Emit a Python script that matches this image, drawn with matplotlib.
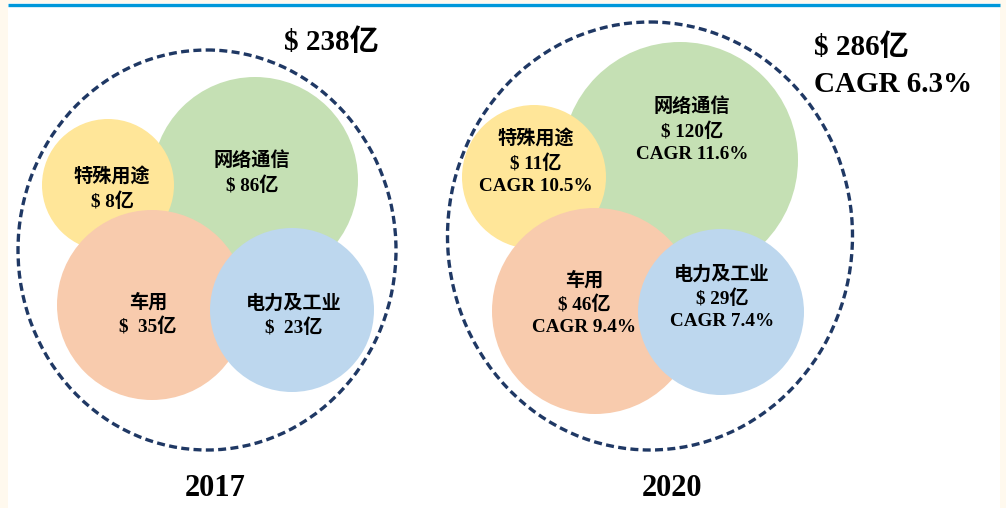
import matplotlib
matplotlib.use("Agg")
import matplotlib.pyplot as plt
from matplotlib.patches import Circle, Ellipse, Rectangle

plt.rcParams['font.family'] = ['Liberation Serif', 'Noto Sans CJK SC']
plt.rcParams['font.weight'] = 'bold'

# data
segments = ['网络通信', '特殊用途', '车用', '电力及工业']
values_2017 = [86, 8, 35, 23]
values_2020 = [120, 11, 46, 29]
cagr_2020 = [11.6, 10.5, 9.4, 7.4]
totals = [238, 286]
total_cagr = 6.3
years = ['2017', '2020']

colors = ['#C5E0B4', '#FFE699', '#F8CBAD', '#BDD7EE']

# layout (pixel coords, y down)
circles_2017 = [(255, 180, 103), (108, 185, 66), (152, 305, 95), (292, 310, 82)]
labels_2017 = [(252, 173), (112, 189), (148, 315), (294, 316)]
circles_2020 = [(680, 160, 118), (534, 177, 72), (595, 311, 103), (721, 312, 83)]
labels_2020 = [(692, 130), (536, 162), (584, 304), (722, 298)]
outer = [(207, 250, 378, 400), (650, 236, 405, 428)]

fig = plt.figure(figsize=(10.06, 5.08), dpi=100, facecolor='#FFF9EE')
ax = fig.add_axes([0, 0, 1, 1])
ax.set_xlim(0, 1006)
ax.set_ylim(508, 0)
ax.set_aspect('equal')
ax.axis('off')

ax.add_patch(Rectangle((8, 3), 992, 505, facecolor='white', edgecolor='none', zorder=0))
ax.plot([8, 1000], [5, 5], color='#0098DA', lw=2.4, solid_capstyle='butt', zorder=1)

for circ, col in zip(circles_2017, colors):
    ax.add_patch(Circle(circ[:2], circ[2], facecolor=col, edgecolor='none', zorder=2))
for circ, col in zip(circles_2020, colors):
    ax.add_patch(Circle(circ[:2], circ[2], facecolor=col, edgecolor='none', zorder=2))

for (cx, cy, w, h) in outer:
    ax.add_patch(Ellipse((cx, cy), w, h, facecolor='none', edgecolor='#1F3864',
                         lw=2.4, linestyle=(0, (2.4, 1.3)), zorder=3))

fs = 13.8
for (x, y), name, v in zip(labels_2017, segments, values_2017):
    sp = '$  ' if v in (35, 23) else '$ '
    ax.text(x, y, f'{name}\n{sp}{v}亿', ha='center', va='center', fontsize=fs,
            fontweight='bold', linespacing=1.4, zorder=4)
for (x, y), name, v, g in zip(labels_2020, segments, values_2020, cagr_2020):
    ax.text(x, y, f'{name}\n$ {v}亿\nCAGR {g}%', ha='center', va='center', fontsize=fs,
            fontweight='bold', linespacing=1.4, zorder=4)

ax.text(284, 42, f'$ {totals[0]}亿', ha='left', va='center', fontsize=21, fontweight='bold')
ax.text(814, 47, f'$ {totals[1]}亿', ha='left', va='center', fontsize=21, fontweight='bold')
ax.text(814, 85, f'CAGR {total_cagr}%', ha='left', va='center', fontsize=21, fontweight='bold')

ax.text(215, 488, years[0], ha='center', va='center', fontsize=22, fontweight='bold')
ax.text(672, 488, years[1], ha='center', va='center', fontsize=22, fontweight='bold')

fig.savefig('out.png', dpi=100, facecolor=fig.get_facecolor())
